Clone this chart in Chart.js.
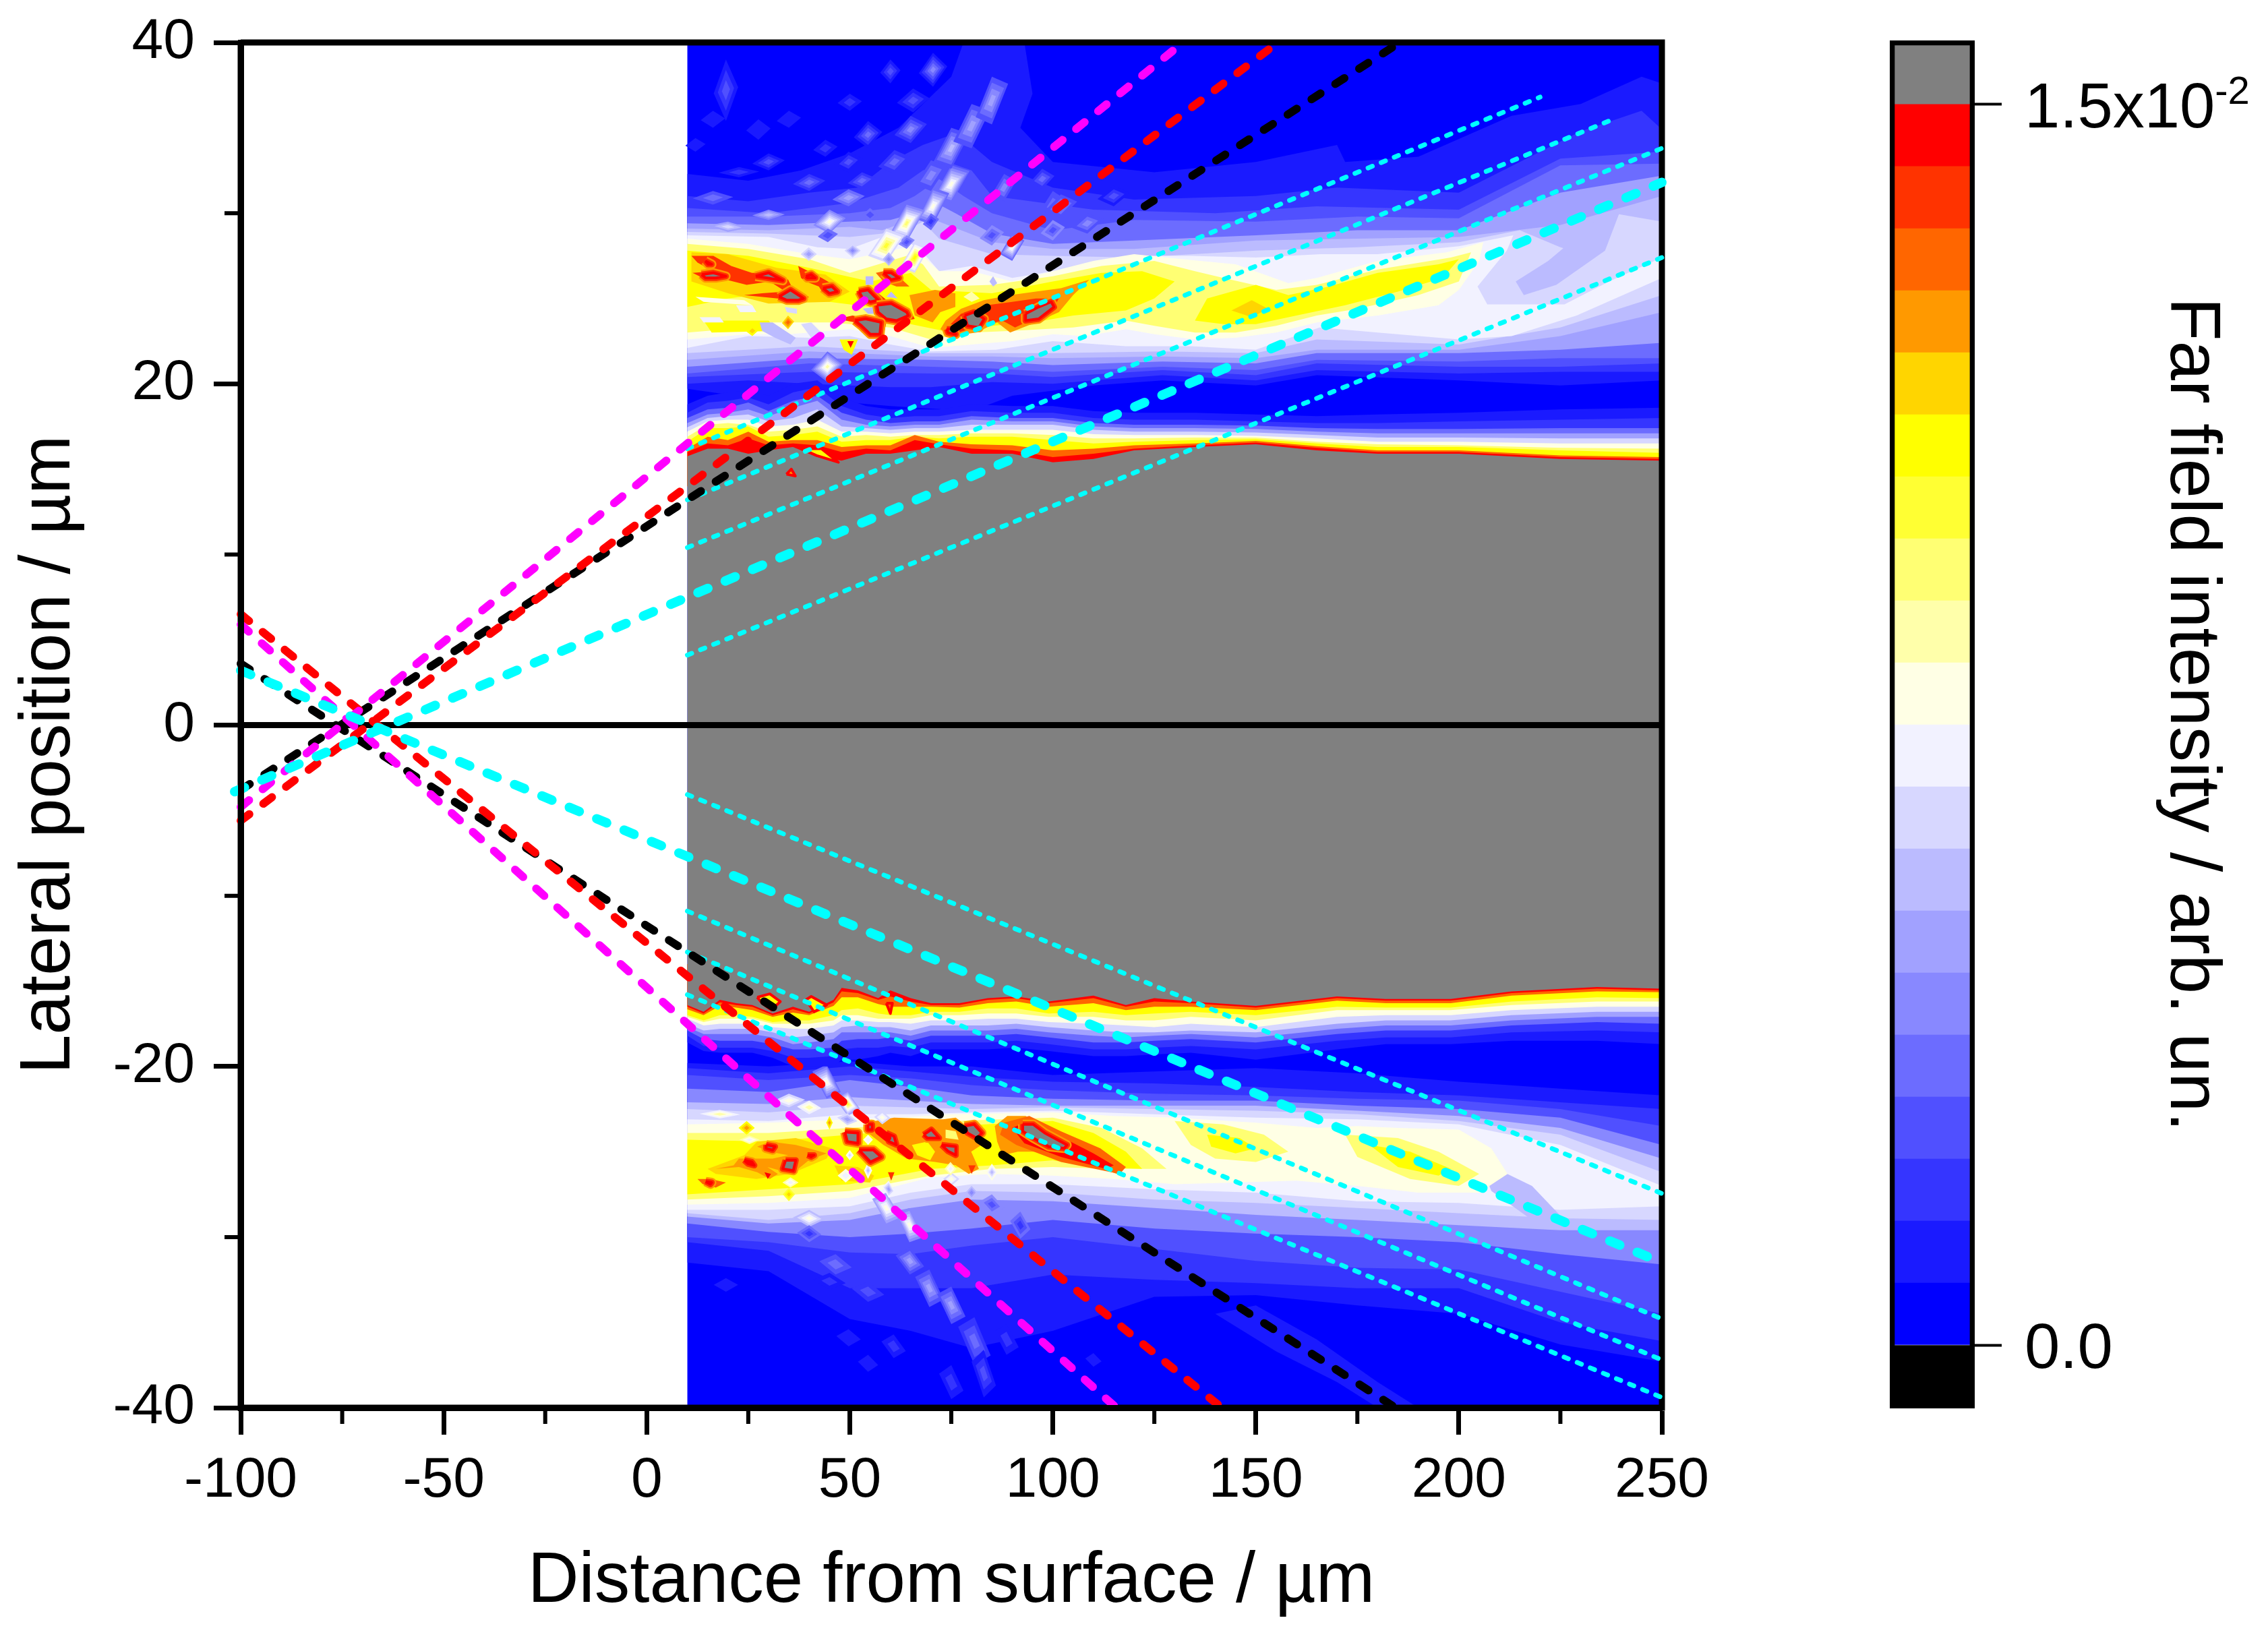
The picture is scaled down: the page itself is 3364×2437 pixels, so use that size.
<!DOCTYPE html>
<html>
<head>
<meta charset="utf-8">
<title>Far field intensity</title>
<script src="https://cdn.jsdelivr.net/npm/chart.js@4/dist/chart.umd.min.js"></script>
<style>
  html, body { margin: 0; background: #fff; }
  canvas { position: absolute; top: 0; }
</style>
</head>
<body>
<canvas id="fieldChart" width="3364" height="2437" style="left:0"></canvas>
<canvas id="scaleChart" width="604" height="2437" style="left:2760px"></canvas>
<script>
// colour levels, 0 = lowest band, 20 = over range
const levelColors = ['#0000ff','#1a1aff','#3535ff','#5050ff','#6c6cff','#8888ff','#a1a1ff','#bbbbff','#d7d7ff','#f2f2ff',
  '#ffffe5','#ffffaa','#ffff73','#ffff33','#ffff00','#ffd500','#ff9900','#ff6600','#ff3300','#ff0000','#808080'];
const barLevels = [-0.00075,0,0.00075,0.0015,0.00225,0.003,0.00375,0.0045,0.00525,0.006,0.00675,0.0075,0.00825,0.009,0.00975,0.0105,0.01125,0.012,0.01275,0.0135,0.01425,0.015,0.01575];
const barTicks = [0, 0.015];

const xMajor = [-100,-50,0,50,100,150,200,250];
const xMinor = [-75,-25,25,75,125,175,225];
const yMinor = [-30,-10,10,30];

// surface ridge, upper side: top edge of each level at these x
const ridgeUpX = [10,15,20,25,30,36,42,48,54,60,66,72,80,90,100,110,120,135,150,165,180,200,225,250];
const greyUp = [15.75,16.2,16.2,15.9,16.1,16.3,15.7,15.5,15.9,15.9,16.1,16.3,15.9,15.9,15.4,15.6,16.1,16.3,16.45,16.1,15.9,15.9,15.6,15.5];
const ridgeUp = [
  [1,[18.8,19.3,19.5,19.6,19.3,20,20.2,19.2,18.7,18.5,18.5,18.5,18.8,18.7,18.7,18.4,18.3,18.3,18.2,18.1,18.2,18.3,18.5,18.6]],
  [2,[18.3,18.9,19,19.2,18.8,19.5,19.8,18.7,18.2,18,18.1,18.1,18.4,18.3,18.3,18,17.9,17.9,17.8,17.7,17.7,17.8,17.9,18]],
  [4,[18,18.5,18.6,18.9,18.4,19,19.3,18.3,17.9,17.7,17.8,17.8,18.1,18,18,17.7,17.6,17.6,17.55,17.4,17.35,17.35,17.4,17.4]],
  [6,[17.7,18.2,18.3,18.5,18.1,18.6,19,17.9,17.6,17.5,17.6,17.6,17.9,17.8,17.8,17.5,17.4,17.4,17.35,17.2,17.1,17.1,17.1,17.1]],
  [8,[17.45,18,18.1,18.2,17.8,18,18.5,17.5,17.4,17.3,17.4,17.4,17.6,17.6,17.6,17.3,17.2,17.2,17.15,17,16.85,16.85,16.8,16.8]],
  [10,[17.2,17.8,17.9,17.9,17.5,17.6,17.9,17.2,17.2,17.1,17.2,17.2,17.3,17.3,17.3,17.05,17,17,16.95,16.8,16.6,16.6,16.5,16.5]],
  [12,[16.9,17.6,17.7,17.6,17.2,17.3,17.5,16.9,17,16.9,17,17,17.1,17.1,17,16.8,16.8,16.85,16.85,16.6,16.45,16.4,16.25,16.2]],
  [14,[16.6,17.4,17.4,17.5,16.9,17,17.2,16.6,16.7,16.7,16.9,16.8,16.9,16.9,16.7,16.5,16.6,16.7,16.75,16.5,16.3,16.3,16.1,15.95]],
  [17,[16.2,16.9,16.7,17.2,16.6,16.7,16.7,16.3,16.4,16.4,17,16.6,16.45,16.4,16.1,16.2,16.4,16.5,16.65,16.35,16.1,16.1,15.8,15.7]],
  [19,[16,16.5,16.4,16.8,16.4,16.5,16.4,16,16.2,16.1,16.7,16.45,16.2,16.1,15.7,15.9,16.2,16.4,16.55,16.25,16,16,15.7,15.6]]
];

// surface ridge, lower side
const ridgeLowX = [10,14,18,22,26,31,36,40,46,48,52,57,60,65,70,77,84,91,99,110,118,125,134,150,170,182,198,213,234,250];
const greyLow = [-16.4,-16.8,-16.1,-16.3,-16.4,-16.9,-16.5,-16.8,-16.1,-15.4,-15.55,-16,-15.55,-16,-16.3,-16.3,-16,-15.9,-16.2,-15.85,-16.4,-16,-16.2,-16.45,-15.9,-16.05,-16.05,-15.6,-15.35,-15.45];
const ridgeLow = [
  [1,[-18.6,-19.1,-19.2,-19.2,-19.2,-19.5,-20,-20,-20,-19.6,-19.6,-19.4,-19.2,-19.4,-19,-19,-19,-18.9,-19.1,-19.4,-19.4,-19.3,-19.2,-19.6,-19,-18.7,-18.7,-18.5,-18.5,-18.7]],
  [2,[-18.2,-18.8,-18.9,-18.9,-18.9,-19.1,-19.5,-19.5,-19.4,-19,-18.9,-18.9,-18.8,-18.9,-18.6,-18.6,-18.6,-18.5,-18.7,-19,-19,-18.9,-18.8,-19,-18.5,-18.3,-18.3,-18,-17.9,-18]],
  [4,[-17.9,-18.4,-18.5,-18.5,-18.5,-18.7,-19,-19,-18.9,-18.5,-18.4,-18.4,-18.3,-18.5,-18.2,-18.2,-18.2,-18.1,-18.3,-18.6,-18.6,-18.5,-18.4,-18.6,-18.1,-17.9,-17.9,-17.6,-17.4,-17.5]],
  [6,[-17.7,-18.1,-18.1,-18.1,-18.1,-18.3,-18.7,-18.6,-18.4,-18,-18,-18,-18,-18.2,-17.9,-17.9,-17.9,-17.8,-18,-18.2,-18.3,-18.2,-18.1,-18.3,-17.8,-17.6,-17.6,-17.3,-17.1,-17.1]],
  [8,[-17.5,-17.9,-17.8,-17.8,-17.8,-18,-18.3,-18.2,-18,-17.7,-17.6,-17.7,-17.7,-17.9,-17.6,-17.6,-17.6,-17.5,-17.7,-17.9,-18,-18,-17.9,-18,-17.5,-17.3,-17.3,-17,-16.8,-16.8]],
  [10,[-17.2,-17.6,-17.5,-17.5,-17.5,-17.7,-17.8,-17.8,-17.6,-17.3,-17.3,-17.4,-17.4,-17.5,-17.3,-17.3,-17.2,-17.2,-17.4,-17.5,-17.6,-17.7,-17.5,-17.7,-17.1,-17,-17,-16.7,-16.5,-16.5]],
  [12,[-17.1,-17.4,-17.2,-17.2,-17.2,-17.5,-17.5,-17.5,-17.3,-17,-17,-17.2,-17.2,-17.2,-17,-17,-16.9,-16.9,-17.1,-17.1,-17.3,-17.3,-17.1,-17.3,-16.7,-16.7,-16.7,-16.4,-16.2,-16.2]],
  [14,[-17,-17.3,-17,-17,-17.1,-17.4,-17.3,-17.3,-17,-16.7,-16.6,-16.9,-17,-17,-16.8,-16.8,-16.6,-16.6,-16.9,-16.8,-17,-16.9,-16.8,-17,-16.5,-16.55,-16.55,-16.2,-15.95,-16]],
  [17,[-16.65,-17,-16.45,-16.55,-16.7,-17.1,-16.85,-17,-16.45,-15.95,-15.95,-16.35,-16.5,-16.5,-16.5,-16.55,-16.3,-16.2,-16.5,-16.3,-16.7,-16.5,-16.5,-16.7,-16.15,-16.3,-16.3,-15.85,-15.6,-15.65]],
  [19,[-16.5,-16.9,-16.25,-16.4,-16.5,-17,-16.65,-16.9,-16.25,-15.6,-15.7,-16.1,-15.9,-16.2,-16.4,-16.4,-16.1,-16,-16.3,-16,-16.5,-16.2,-16.3,-16.55,-16,-16.15,-16.15,-15.7,-15.45,-15.55]]
];

// upper lobe, painted in this order: [level, x,y, x,y ...]
const upperLobe = [
  [1,[10,32.3,25,31.9,38,32.5,50,33.5,62,35,75,38,78,40,93,40,95,37,92,35,100,33,125,32.4,150,33,170,34,172,33,190,33.3,213,35.7,230,36.4,245,38,250,37.6,250,20.2,225,19.9,200,20.2,165,20.5,150,19.9,127,20.2,110,19.9,100,19.6,90,19.3,80,18.4,60,18.7,40,19.1,25,19.2,10,19.7]],
  [2,[10,31,25,30.7,40,31.2,52,31.5,60,33,68,34,74,34.5,80,34,85,33,100,31.5,120,30.8,150,31,170,31.5,200,31.2,215,33,230,34.8,245,36,250,34.9,250,20.7,225,20.7,200,20.6,165,20.8,150,20.2,127,20.5,110,20.2,100,20,85,20.1,70,19.8,60,19.8,40,20,25,20.2,10,20]],
  [3,[10,30.3,30,30,50,30.6,62,31.5,68,32.5,74,33,80,32.5,85,31,110,30.2,140,30,165,30.4,200,30.2,225,33.2,250,33.6,250,21.2,225,21,200,21,165,21.2,150,20.5,127,20.8,100,20.4,85,20.6,70,20.6,40,20.7,10,20.4]],
  [4,[10,29.8,30,29.8,50,30,60,30.3,66,31,72,32,78,31,85,30,100,29,120,29.6,150,29.5,175,29.8,200,29.7,225,32.8,250,32.9,250,21.5,225,21.5,200,21.3,165,21.4,150,20.8,127,21,100,20.7,85,20.9,70,21,40,21.2,10,20.6]],
  [6,[10,29.4,30,29.3,50,29.5,60,29.6,66,30,72,30.5,76,30,85,28.8,100,28.2,120,28.4,150,28.7,175,29,200,29,225,31.2,250,32.2,250,22.4,225,22,200,21.8,165,21.8,150,21.2,127,21.3,100,21.1,85,21.3,70,21.4,40,21.5,10,21]],
  [7,[10,29.1,30,29,50,29.2,58,29,64,29.5,68,29.8,72,29.5,85,28.3,100,27.9,120,27.9,150,28.4,175,28.5,200,28.6,225,29.3,250,31,250,24.2,225,22.8,200,22,165,22,150,21.5,127,21.6,100,21.5,85,21.6,70,21.6,40,21.9,10,21.4]],
  [8,[10,28.9,30,28.8,50,28.6,58,28.8,64,29,68,29.5,72,28.5,85,27.6,100,27.5,120,27.4,150,27.8,175,28,200,28.3,215,29,225,28,232,27.5,238,30,250,29.5,250,25.2,225,23.3,200,22.3,165,22.6,150,21.8,127,21.9,100,21.8,85,21.8,70,21.8,40,22.2,10,21.8]],
  [7,[214,26,222,27.2,234,29.6,240,30.3,236,27.8,224,25.8,216,25.2]],
  [9,[10,28.7,30,28.6,42,28,50,27.9,58,28.6,64,28.4,68,27.7,72,26.6,80,26.9,90,26.2,100,26.6,110,27,120,27.5,134,27.5,150,27.4,166,27.6,180,27.6,200,28.06,213.4,28.7,211.8,27.8,204.6,25.7,207,24.65,226,24.65,237,26,250,27.4,250,26.2,229,24,213,22.8,200,22.6,180,23,165.7,23.3,150,22,134,22.2,118,22.2,100,22.5,86,22,70,21.9,60,22.3,50,22.8,40,22.7,25,22.8,10,22.1]],
  [10,[10,28.5,25,28.2,40,27.6,50,27.3,64,28,68,27.5,72,26.6,80,26.6,90,26,100,26.6,110,27.2,120,27.6,132,27.3,145,27,158,25.9,165,26.2,180,27.2,197,27.7,206,28.3,205,27.2,200,25.5,195,24.6,180,24,165,23.6,155,23,145,22.7,135,22.6,125,22.9,118,23.2,108,22.8,100,22.9,90,22.5,80,22.3,70,22.1,60,22.8,50,23.2,35,22.9,25,22.9,10,22.6]],
  [12,[10,28.2,25,27.9,40,27.3,50,26.5,64,27.5,68,27,72,25.7,85,25.8,100,26.3,112,26.9,125,27.2,135,26.6,142,26.2,155,25.5,165,25.8,180,26.7,198,27.4,203,27.7,200,26,190,25.2,175,24.4,165,24,155,23.4,145,23,135,23,125,23.4,118,23.7,105,23.3,90,23.1,80,23,70,22.6,60,23.3,45,23.6,30,23.6,20,23.2,10,23]],
  [14,[10,27.8,25,27.5,40,26.8,55,26,65,26.5,70,25.5,85,25.3,100,26,112,26.5,122,26.6,130,26,125,25,118,24.3,105,24,95,23.6,85,23.4,75,23,65,23.5,55,24.5,45,24.8,30,25.3,20,25,10,24.5]],
  [14,[14,23.7,30,23.7,32,23.1,16,23]],
  [14,[138,25,150,25.8,158,25.2,168,25.7,180,26.5,195,27,200,27.3,196,26.2,185,25.4,172,24.6,160,24,150,23.5,142,23.5,135,23.7]],
  [15,[144,24.3,149,24.9,153,24.4,149,23.9]],
  [15,[11,27.7,20,27.6,32,26.8,44,26.4,50,25.4,45,24.8,30,24.7,20,25.3,11,26]],
  // holes in the yellow part
  [10,[12,25.1,24,24.9,26,24.6,14,24.8]],
  [9,[22,24.6,26,24.6,27,24.2,23,24.2]],
  [9,[13,23.9,18,23.9,19,23.6,14,23.6]],
  [8,[34,24.5,37,24.4,37,24.1,34.5,24.2]],
  [7,[27.8,23.6,31,23.6,36.7,22.7,35.4,22.3,31.6,22.7,28.4,23.1]],
  [8,[38,23.5,40.5,23.6,44.3,22.7,40.5,22.7]],
  [7,[53.9,26.3,55.8,26.3,55.8,25.8,53.9,25.8]],
  [7,[59,25.1,60.2,25.4,61.8,25]],
  [7,[53.2,24.4,55.8,24.5,56.4,24.1,54.5,24.1]],
  [7,[84.4,26,85.3,26.3,86.3,25.9,85.3,25.7]],
  [11,[78,25.1,80,25.4,82,25,80,24.8]],
  // orange and red areas
  [16,[64.7,25.2,71,25.5,76,25.3,76,24.5,72.3,24.2,70.4,23.6,66,24]],
  [16,[72.3,23.2,73.6,23.7,77.4,24.4,83,24.9,89.5,25.2,95.8,25.4,102,25.6,109,26.1,105,25.2,101.5,24.2,95.8,23.6,89.5,23,86.3,23.6,81.2,23,74.8,22.8]],
  [18,[73.6,23.2,77.4,24.1,83.7,24.6,90,24.8,95.8,25,101.5,25,100.3,24.5,95.2,23.8,90.7,23.3,87.6,23.7,80.6,23.3,75.5,22.9]],
  [18,[11,27.5,16.4,27.5,20.8,26.9,25.9,26.5,30.3,26.5,34.8,26.1,36.1,25.5,39.9,25.1,38.6,24.8,32.3,25,24,25.2,28.4,25.3,34.2,25.4,30.3,26,24.6,25.8,19.5,26.1,13.8,26.2,11.3,26.5,16.4,26.6,12.5,27.1]],
  [18,[37.3,26.9,43.1,26.2,48.1,25.5,47.5,25.2,43.7,25.2,42.4,25.7,39.2,26,38,26.2]],
  [17,[56.4,26.5,60.2,26.7,64.7,25.7,61.5,25.7,58.3,26]],
  [18,[51.6,25.4,54.5,25.8,59.6,24.8,64.7,24.4,66,23.8,62.1,23.6,58.3,23.7,55.8,24.8,52.6,24.9]],
  [18,[46.9,23.8,50.7,24,59,23.6,58.3,22.8,54.5,22.9,51.3,23.6]],
  [14,[47.5,22.6,52,22.6,50.5,21.7,48.5,22]],
  [19,[49.4,22.5,51,22.5,50.2,22.1]]
];

// grey cores with a red rim
const upperCores = [
  [14.4,27.2,16,27,15.1,27],
  [13.5,26.4,16.4,26.5,19.5,26.3,17,26.2,14.5,26.2],
  [26.8,26.3,30,26.5,33.5,26.05,29.7,26.2],
  [32.6,25.1,35.4,25.5,38.6,25,37.3,24.9,34.5,24.9],
  [39.2,26.3,40.5,26.4,41.5,26.2,39.6,26.2],
  [43.4,25.6,45.6,25.7,46.9,25.4,45,25.3],
  [58.3,26.5,60.2,26.5,62.1,26.2,60.2,26.1],
  [52.3,25.4,54.5,25.5,57,24.9,55.1,24.8,53.2,25],
  [56.7,24.6,60.2,24.7,64,24.2,64.4,24,61.5,23.7,59,23.8,57,24.2],
  [51.3,23.7,53.9,23.8,57.7,23.6,57.4,22.9,55.1,22.9,52.9,23.4],
  [78.3,24,80.6,24.2,83.1,23.8,81.8,23.3,79,23.4],
  [93.3,24.1,96.5,24.5,99.6,24.8,100.3,24.5,96.5,23.8,93.3,23.7],
  [73.9,23.2,75.5,23.2,76.1,22.9,74.2,23]
];

// diamonds along the interference fringes: x, y, half width, half height, lean, first level, last level
const upperSpots = [
  [75,31.7,4.5,1.1,.7,4,10],[70.5,30.4,4,1.1,.7,4,10],[64,29.4,4.5,1.1,.7,5,12],[59,28.1,4.5,1,.6,8,13],[66,27.4,3.5,.9,.6,8,14],
  [45,29.5,4,.7,.3,5,10],[75,33.8,4.5,1.2,.7,3,7],[80,35.1,4.5,1.3,.7,3,6],[85,36.6,4,1.4,.7,3,6],[70.5,38.4,3.5,1,.2,1,5],
  [65,34.9,4,.8,.4,2,5],[54.5,34.6,3.5,.8,.2,1,4],[60,38.3,2.5,.7,.1,1,3],[19.5,37.2,3,1.8,.1,1,3],[65.6,36.6,4,.7,.2,1,3],
  [50,36.5,3,.5,.1,1,2],[30,33,4,.5,.2,1,3],[40,31.8,4,.5,.2,2,4],[90,28,3,.8,.5,4,10],[44.5,21,4,.9,.2,4,11],
  [88,31.5,3,.8,.5,3,5],[30,29.9,4,.3,.1,5,7],[20,29.2,5,.3,-.2,6,8],[100,30.5,3,.8,.4,3,4],
  [27.5,34.9,3,.6,.1,1,1],[16.3,35.5,3,.5,.1,1,1],[70,32.2,4,.9,.6,3,5],[61,33,4,.7,.4,2,4],[49.7,33,3.5,.6,.3,1,3],
  [53,31.9,3.5,.5,.3,2,4],[22.7,32.4,5,.3,.1,1,2],[16.3,30.9,5,.4,.1,3,4],[49.7,30.9,4,.5,.2,4,6],[97.4,32,3,.6,.3,2,4],
  [102,30.4,4,.7,.4,3,5],[108.5,29.4,4,.6,.4,3,5],[115,31,4,.6,.3,1,3],[35,35.5,3,.5,.2,1,1],[44,33.8,3,.5,.2,1,2],[12,34,2.5,.4,.1,1,1],
  [44.6,28.7,2.5,.4,.2,4,3],[55,29.9,2,.4,0,4,3],[70,29.5,2,.5,.3,4,2],[64,28.3,2,.4,.3,5,3],[59.6,27.3,1.5,.4,0,7,5],
  [39.9,27.6,2,.4,0,8,6],[50.7,27.8,2,.4,0,8,5],[85,28.7,3,.6,.3,5,3],[100,29,3,.6,.3,5,3],
  [34.8,23.6,1.5,.4,.1,15,17],[26,23.1,1.5,.3,.1,14,15]
];

// lower lobe, same columns for every level
const lowerX = [10,30,50,65,80,100,125,150,175,200,225,250];
const lowerLobe = [
  [1,[-19.8,-20,-19.7,-20,-20,-20.5,-20.3,-20.1,-20.4,-20.9,-21.3,-21.7],[-31.5,-32,-34.8,-35.5,-36.5,-35.5,-33.5,-33.4,-34,-34.5,-36.3,-37.3]],
  [2,[-20.1,-20.4,-20,-20.3,-20.6,-20.9,-21,-21.2,-21.5,-21.7,-22.1,-22.5],[-30.3,-30.8,-33,-33,-33,-32.2,-32.5,-32.7,-33,-33,-35,-36.1]],
  [3,[-20.5,-20.8,-20.5,-20.7,-21.1,-21.4,-21.6,-21.7,-21.9,-22,-22.5,-23.5],[-30,-30.3,-30.9,-31,-30.5,-30,-30.7,-31.4,-31.8,-31.9,-33.2,-34.5]],
  [5,[-21.3,-21.5,-20.8,-21.2,-21.7,-21.9,-22,-22,-22.3,-22.5,-23,-24.6],[-29.2,-29.7,-30,-29.8,-29.5,-29,-29.5,-29.8,-30,-30.3,-31,-31.6]],
  [7,[-22.1,-22.2,-21.8,-22,-22.2,-22.3,-22.3,-22.3,-22.6,-22.9,-23.6,-25.4],[-28.8,-29.2,-29,-28.3,-27.8,-27.9,-28.3,-28.7,-29,-29.3,-29.6,-29.6]],
  [8,[-22.5,-22.7,-22.3,-22.4,-22.5,-22.4,-22.5,-22.6,-22.8,-23.2,-24,-26.2],[-28.6,-29,-28.6,-27.8,-27.3,-27.4,-27.8,-28,-28.3,-28.6,-28.9,-29]],
  [9,[-23.1,-23.2,-22.8,-22.8,-22.7,-22.6,-22.8,-23,-23.1,-23.4,-24.6,-27],[-28.4,-28.4,-28.2,-27.4,-26.9,-26.9,-27.2,-27.4,-27.9,-28,-28.4,-28.2]]
];
const lowerPatches = [
  [1,[150,-34,165,-36,180,-38.5,190,-40,180,-40,170,-38.5,155,-36.7,140,-34.5]],
  [7,[205,-25.5,218,-27,226,-29,218,-29,208,-27.3]],
  [10,[10,-23.4,30,-23.3,50,-23.1,62,-23,75,-22.8,100,-22.7,115,-22.9,130,-23,150,-23.3,165,-23.6,175,-23.5,185,-23.6,200,-23.7,208,-24.8,212,-26.3,205,-27.4,190,-27.4,175,-27,160,-26.7,145,-26.8,130,-26.9,115,-26.6,100,-26.4,85,-26.3,70,-26.5,50,-27.7,30,-28,10,-28.1]],
  [12,[10,-23.9,30,-23.9,50,-23.6,62,-23.4,75,-23.2,100,-23,112,-23.6,122,-24.8,128,-26,115,-26,100,-25.9,85,-26,70,-26.4,50,-27.3,30,-27.6,10,-27.8]],
  [12,[130,-23.2,142,-23.4,152,-24,158,-25,150,-25.6,140,-25.4,134,-24.6]],
  [12,[172,-24,185,-24.2,195,-25,205,-26.3,200,-27,188,-26.6,175,-25.3]],
  [14,[10,-24.3,30,-24.4,50,-24,60,-23.8,75,-23.5,100,-23.2,110,-23.9,118,-25,122,-26,110,-25.9,100,-25.5,85,-25.8,70,-26,50,-26.9,30,-27.2,10,-27.5]],
  [14,[138,-24,146,-24.2,150,-24.8,145,-25.1,139,-24.7]],
  [14,[178,-24.6,188,-25,198,-26,195,-26.4,185,-25.9]],
  [15,[27.2,-24.4,36.7,-24.2,45.6,-24.8,44.3,-25.4,35.4,-26.3,27,-26.6,17,-26.3,15,-26,24,-25.2]],
  [15,[46.2,-25.8,52,-25.9,56,-26.4,55,-26.8,48,-26.7]],
  // orange and red areas
  [16,[53.9,-23.3,60.9,-23,72.9,-23.1,76.1,-23,79.9,-23.7,83.7,-24.4,79.9,-25,81.8,-26,79.3,-26.3,76.1,-25.8,71,-25.6,64,-25.4,58.3,-24.6,54.5,-23.9]],
  [16,[85.7,-23.5,88.8,-22.9,93.3,-22.9,99,-23.7,105.4,-24.6,109.7,-25.1,116,-25.6,117,-26.4,109.7,-25.8,104,-25.5,97.7,-25,91.4,-25,87.6,-25.2,86.3,-24.4]],
  [17,[88,-23.3,94.2,-22.9,102,-23.8,111.7,-24.8,118,-25.9,116.5,-26.3,102,-25.6,91,-24.6,87,-24]],
  [19,[90,-23.6,94,-23.2,101,-24,110,-25.1,115,-25.8,113,-26,102,-25.3,93,-24.5]],
  [14,[65.3,-24.6,69.1,-24.4,71,-25,69.8,-25.5,66.6,-25.2]],
  [12,[73.6,-23.7,76.1,-23.8,76.8,-24.3,73.6,-24.2]],
  [16,[27.2,-24.7,30.3,-24.4,36.7,-24.6,39.9,-24.8,44.3,-25.1,39.9,-25.5,37.3,-26,32.9,-26.1,29.7,-25.9,32.3,-26.3,30.3,-26.6,27.2,-26.2,22.7,-25.9,17,-26,21.4,-25.8,22.7,-25.4,25.9,-25.4,31,-25.4,34.8,-25.2,30.3,-25]],
  [17,[12.5,-26.6,15.7,-26.6,19.5,-26.8,17,-27.1,13.8,-26.9]],
  [19,[29,-26.2,30.6,-26.3,29.8,-26.6]],
  [18,[59.4,-26.2,61,-26.2,60.2,-26.7]],
  [18,[79.2,-25.8,81,-25.8,80,-26.3]]
];
const lowerCores = [
  [92.6,-23.4,95.2,-23.4,98,-23.9,103.5,-24.6,102.8,-24.8,99,-24.7,95.2,-24.2,92.6,-23.8],
  [54.5,-23.4,55.5,-23.4,55.5,-23.7,54.5,-23.7],
  [59,-23.9,60.9,-24.1,61.5,-24.6,59.6,-24.4],
  [68.2,-24,70.1,-23.7,72,-24.2,69.1,-24.2],
  [78.3,-23.5,80.6,-23.4,82.5,-23.9,81.2,-24.2,79,-23.9],
  [72.6,-24.6,76.1,-24.7,76.1,-25.2,74.2,-24.97],
  [48.8,-23.85,52,-23.9,52,-24.5,49.4,-24.4],
  [52.3,-24.9,55.8,-24.9,57.7,-25.3,55.1,-25.6,53.5,-25.2],
  [34.2,-25.5,36.7,-25.5,36.1,-26.1,33.5,-26],
  [29.4,-24.6,31.6,-24.7,31,-24.9,29.4,-24.8],
  [24,-25.5,25.9,-25.6,26.5,-25.8,24.9,-25.7],
  [39.6,-25.2,41.2,-25.2,40.5,-25.3],
  [14.5,-26.75,16,-26.8,15.7,-26.9]
];
const lowerSpots = [
  [44.3,-20.9,3.5,1,-.6,4,10],[49.5,-22.2,3,.7,-.4,6,13],[59,-28.3,3.5,.9,-.6,6,10],[64.7,-29.3,3.5,1,-.7,5,10],
  [69.6,-33,3.5,1.1,-.6,3,6],[75,-34,3.5,1.1,-.6,3,6],[80.7,-36.1,4,1.4,-.6,2,4],[64.8,-31.4,3.5,.8,-.4,3,6],
  [40,-28.9,4,.5,-.1,7,10],[83,-38,3,1.4,-.5,1,3],[85,-28.1,3,.6,-.3,5,3],[40,-29.8,3,.5,-.1,4,2],
  [92,-29.3,2.5,.8,-.3,4,2],[35,-22,4,.4,.1,8,10],[58,-23,2,.4,-.1,8,10],[49,-26.4,2,.4,0,10,9],[75,-26.6,2,.4,0,8,10],
  [46.5,-31.6,4,.6,-.3,3,4],[54.5,-33.2,4,.6,-.3,2,3],[45,-32.6,4,.5,-.2,1,2],[60.8,-36.4,3,.7,-.4,1,2],[49.7,-35.9,3,.5,-.2,1,1],
  [19.5,-32.8,3,.4,0,1,1],[54.5,-37.4,2.5,.5,-.2,1,1],[75,-38.5,3,1,-.5,1,2],[88.6,-36,3,.9,-.5,1,2],[110,-37.2,2,.4,-.2,1,1],
  [49.4,-23.1,2.5,.35,-.3,8,6],[54.5,-24.3,1.2,.3,0,10,9],[50,-25.2,1,.3,0,10,8],[54.5,-26.1,1,.5,0,10,7],
  [59.6,-27.2,1.5,.5,-.3,9,6],[74.8,-26,1.5,.4,0,11,9],[85,-26.2,1.5,.5,0,10,7],[35.4,-26.8,2,.3,0,11,9],
  [25.3,-24.3,2.5,.25,0,11,9],[24.6,-23.6,2,.4,0,14,16],[35,-27.5,1.5,.4,0,13,15],[80,-27.4,1.5,.4,0,7,5],
  [18,-22.8,5,.25,-.1,9,11],[40,-22.4,3,.4,-.1,9,11],[45,-23.3,.8,.4,0,14,16]
];

// spots that sit on the ridge, over the grey: [level, x,y ...]
const ridgeSpots = [
  [14,[38,16.2,43,16.2,47.2,15.4,41.8,15.8]],
  [16,[34.4,14.7,35.6,15,36.6,14.6]],
  [14,[27.2,-15.95,30.3,-15.75,32.9,-16.2,30.7,-16.7,28.4,-16.3]],
  [14,[39.2,-16.1,40.5,-15.9,44.3,-16.4,41.2,-16.8]],
  [17,[59,-16.3,60.5,-16.3,60,-16.9]]
];

// dashed guide lines: x0,y0,x1,y1
const blackUp = [-100,-3.8,10,13.2,185.5,40];
const blackLow = [-100,3.6,10,-13.3,184.4,-40];
const redUp = [-100,-5.6,10,14,156.6,40.2];
const redLow = [-100,6.5,10,-14.7,141.6,-40];
const magentaUp = [-100,-4.8,10,16.5,130,39.6];
const magentaLow = [-100,5.9,10,-17.5,115.6,-40];
const cyanThickUp = [-101.5,-3.9,10,7.5,250,31.8];
const cyanThickLow = [-100,3.2,10,-7.7,250,-31.5];
const cyanThin = [
  [10,16.2,220,36.8],[10,13.2,238,35.5],[10,10.4,250,33.8],[10,4.1,250,27.4],
  [10,-4.07,250,-27.45],[10,-10.9,250,-34.8],[10,-13.3,250,-37.2],[10,-15.8,250,-39.4]
];

function toPoints(flat) {
  const points = [];
  for (let i = 0; i < flat.length; i += 2) points.push({x: flat[i], y: flat[i + 1]});
  return points;
}

const datasets = [];
function addShape(points, level) {
  datasets.push({
    data: points, showLine: true, fill: 'shape', backgroundColor: levelColors[level],
    borderWidth: 0, pointRadius: 0, tension: 0
  });
}
function addRim(points, color, width, fillColor) {
  datasets.push({
    data: points.concat(points[0]), showLine: true, fill: 'shape', backgroundColor: fillColor,
    borderColor: color, borderWidth: width, borderJoinStyle: 'round', pointRadius: 0, tension: 0
  });
}
function addSpot(s) {
  const [x, y, rx, ry, lean, from, to] = s;
  const steps = Math.abs(to - from);
  for (let k = 0; k <= steps; k++) {
    const f = 1 - k / (steps + 1);
    const level = from + Math.sign(to - from) * k;
    addShape(toPoints([x - rx * f, y - lean * ry * f, x, y + ry * f, x + rx * f, y + lean * ry * f, x, y - ry * f]), level);
  }
}
function addCore(flat) {
  const points = toPoints(flat);
  addRim(points, levelColors[16], 14, levelColors[16]);
  addRim(points, levelColors[18], 9, levelColors[18]);
  addRim(points, levelColors[19], 4, levelColors[20]);
}
function addLine(flat, color, width, dash) {
  datasets.push({
    data: toPoints(flat), showLine: true, fill: false, borderColor: color, borderWidth: width,
    borderDash: dash, borderCapStyle: dash.length ? 'round' : 'butt', borderJoinStyle: 'miter',
    pointRadius: 0, tension: 0, clip: false
  });
}

// everything is painted back to front
addShape(toPoints([10,-40,250,-40,250,40,10,40]), 0);
upperLobe.forEach(([level, flat]) => addShape(toPoints(flat), level));
upperSpots.forEach(addSpot);
upperCores.forEach(addCore);

lowerLobe.forEach(([level, tops, bottoms]) => {
  const points = lowerX.map((x, i) => ({x, y: tops[i]}));
  for (let i = lowerX.length - 1; i >= 0; i--) points.push({x: lowerX[i], y: bottoms[i]});
  addShape(points, level);
});
lowerPatches.forEach(([level, flat]) => addShape(toPoints(flat), level));
lowerSpots.forEach(addSpot);
lowerCores.forEach(addCore);

ridgeUp.forEach(([level, tops]) => {
  addShape([{x: 10, y: 14}].concat(ridgeUpX.map((x, i) => ({x, y: tops[i]})), {x: 250, y: 14}), level);
});
ridgeLow.forEach(([level, edges]) => {
  addShape([{x: 10, y: -14}].concat(ridgeLowX.map((x, i) => ({x, y: edges[i]})), {x: 250, y: -14}), level);
});
const greyShape = ridgeUpX.map((x, i) => ({x, y: greyUp[i]}));
for (let i = ridgeLowX.length - 1; i >= 0; i--) greyShape.push({x: ridgeLowX[i], y: greyLow[i]});
addShape(greyShape, 20);
ridgeSpots.forEach(([level, flat]) => addRim(toPoints(flat), levelColors[19], 4, levelColors[level]));

// frame and zero line, then the guides
addLine([-100,40,250,40,250,-40,-100,-40,-100,40], '#000', 9, []);
addLine([-100,0,250,0], '#000', 9, []);
cyanThin.forEach(line => addLine(line, '#00ffff', 7, [7, 14]));
addLine(blackUp, '#000', 12, [16, 26]);
addLine(blackLow, '#000', 12, [16, 26]);
addLine(redUp, '#ff0000', 12, [16, 26]);
addLine(redLow, '#ff0000', 12, [16, 26]);
addLine(magentaUp, '#ff00ff', 12, [16, 26]);
addLine(magentaLow, '#ff00ff', 12, [16, 26]);
addLine(cyanThickUp, '#00ffff', 14, [16, 28]);
addLine(cyanThickLow, '#00ffff', 14, [16, 28]);

// lower order is drawn later, so the last one added must be on top
datasets.forEach((d, i) => { d.order = datasets.length - i; });

const axisFont = {family: '"Liberation Sans", Arial, sans-serif', size: 84};
const titleFont = {family: '"Liberation Sans", Arial, sans-serif', size: 105, lineHeight: 1};

const minorTicks = {
  id: 'minorTicks',
  afterDraw(chart) {
    const {ctx, scales: {x, y}, chartArea} = chart;
    ctx.save();
    ctx.strokeStyle = '#000';
    ctx.lineWidth = 6;
    ctx.beginPath();
    xMinor.forEach(v => {
      const px = x.getPixelForValue(v);
      ctx.moveTo(px, chartArea.bottom);
      ctx.lineTo(px, chartArea.bottom + 24);
    });
    yMinor.forEach(v => {
      const py = y.getPixelForValue(v);
      ctx.moveTo(chartArea.left, py);
      ctx.lineTo(chartArea.left - 24, py);
    });
    ctx.stroke();
    ctx.restore();
  }
};

new Chart(document.getElementById('fieldChart'), {
  type: 'scatter',
  data: {datasets},
  plugins: [minorTicks],
  options: {
    responsive: false,
    animation: false,
    layout: {padding: {left: 0, top: 63, right: 899, bottom: 0}},
    plugins: {legend: {display: false}, tooltip: {enabled: false}},
    scales: {
      x: {
        type: 'linear', min: -100, max: 250,
        afterBuildTicks: s => { s.ticks = xMajor.map(value => ({value})); },
        afterFit: s => { s.height = 349; },
        grid: {drawOnChartArea: false, tickLength: 40, tickWidth: 7, tickColor: '#000'},
        border: {color: '#000', width: 9, z: 1},
        ticks: {color: '#000', font: axisFont, padding: 18, maxRotation: 0, autoSkip: false},
        title: {display: true, text: 'Distance from surface / µm', color: '#000', font: titleFont, padding: {top: 0, bottom: 37}}
      },
      y: {
        type: 'linear', min: -40, max: 40,
        ticks: {stepSize: 20, color: '#000', font: axisFont, padding: 28},
        afterFit: s => { s.width = 357; s.paddingTop = 0; s.paddingBottom = 0; },
        grid: {drawOnChartArea: false, tickLength: 40, tickWidth: 7, tickColor: '#000'},
        border: {color: '#000', width: 9, z: 1},
        title: {display: true, text: 'Lateral position / µm   ', color: '#000', font: titleFont, padding: {top: 22, bottom: 0}}
      }
    }
  }
});

// colour scale
const barDatasets = levelColors.map((color, i) => ({
  data: [[barLevels[i + 1], barLevels[i + 2]]], backgroundColor: color, borderWidth: 0
}));
barDatasets.push({data: [[barLevels[0], barLevels[1]]], backgroundColor: '#000', borderWidth: 0});
barDatasets.unshift({
  data: [[-0.000766, 0.015774]], backgroundColor: 'rgba(0,0,0,0)', borderColor: '#000',
  borderWidth: 7, borderSkipped: false
});

const superscript = {
  id: 'superscript',
  afterDraw(chart) {
    const {ctx, scales: {y}} = chart;
    const label = y.ticks.find(t => t.value === barTicks[1]);
    const py = y.getPixelForValue(barTicks[1]);
    ctx.save();
    ctx.font = '94px "Liberation Sans", Arial, sans-serif';
    const left = y.left + 40 + 34 + ctx.measureText(label.label).width;
    ctx.font = '58px "Liberation Sans", Arial, sans-serif';
    ctx.fillStyle = '#000';
    ctx.textBaseline = 'alphabetic';
    ctx.fillText('-2', left, py - 1);
    ctx.restore();
  }
};

new Chart(document.getElementById('scaleChart'), {
  type: 'bar',
  data: {labels: ['scale'], datasets: barDatasets},
  plugins: [superscript],
  options: {
    responsive: false,
    animation: false,
    layout: {padding: {left: 43, top: 60, right: 0, bottom: 348}},
    plugins: {legend: {display: false}, tooltip: {enabled: false}},
    datasets: {bar: {grouped: false, barPercentage: 1, categoryPercentage: 1}},
    scales: {
      x: {display: false},
      y: {
        position: 'right', min: -0.000766, max: 0.015774,
        afterBuildTicks: s => { s.ticks = barTicks.map(value => ({value})); },
        afterFit: s => { s.width = 435; s.paddingTop = 0; s.paddingBottom = 0; },
        grid: {drawOnChartArea: false, tickLength: 40, tickWidth: 4, tickColor: '#000'},
        border: {display: false},
        ticks: {
          color: '#000', font: {family: axisFont.family, size: 94}, padding: 34, labelOffset: 8,
          callback: v => (v === 0 ? '0.0' : '1.5x10')
        },
        title: {display: true, text: 'Far field intensity / arb. un. ', color: '#000', font: titleFont, padding: {top: 63, bottom: 0}}
      }
    }
  }
});
</script>
</body>
</html>
